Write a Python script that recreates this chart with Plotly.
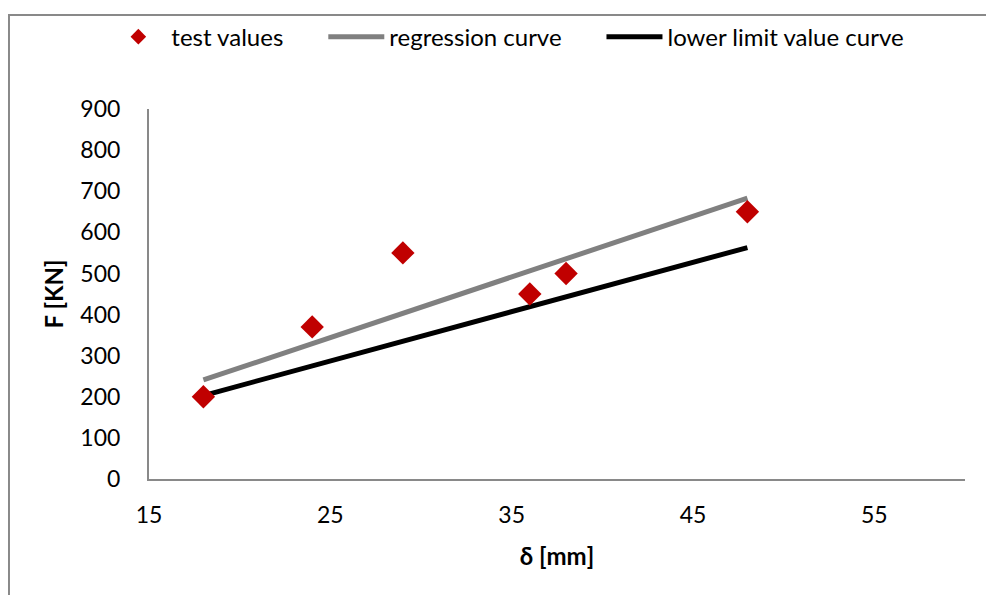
import plotly.graph_objects as go

# Data
test_x = [18, 24, 29, 36, 38, 48]
test_y = [200, 370, 550, 450, 500, 650]
reg_x = [18, 48]
reg_y = [241, 683]
low_x = [18, 48]
low_y = [203, 563]
x_ticks = [15, 25, 35, 45, 55]
y_ticks = [0, 100, 200, 300, 400, 500, 600, 700, 800, 900]

FONT = "Lato"

fig = go.Figure()
fig.add_trace(go.Scatter(x=reg_x, y=reg_y, mode="lines", name="regression curve",
                         legend="legend2",
                         line=dict(color="#808080", width=5)))
fig.add_trace(go.Scatter(x=low_x, y=low_y, mode="lines", name="lower limit value curve",
                         legend="legend3",
                         line=dict(color="#000000", width=5)))
fig.add_trace(go.Scatter(x=test_x, y=test_y, mode="markers", name="test values",
                         legend="legend",
                         marker=dict(symbol="diamond", size=18, color="#C00000")))

leg_common = dict(orientation="h", y=1.1945, yanchor="middle", xanchor="left",
                  font=dict(family=FONT, size=24, color="#000000"),
                  bgcolor="rgba(0,0,0,0)", itemwidth=56, itemsizing="constant")

fig.update_layout(
    width=994, height=595,
    margin=dict(l=141, r=37, t=101, b=124, autoexpand=False),
    paper_bgcolor="white", plot_bgcolor="white",
    showlegend=True,
    legend=dict(x=-0.0535, **leg_common),
    legend2=dict(x=0.2136, **leg_common),
    legend3=dict(x=0.5545, **leg_common),
    shapes=[dict(type="rect", xref="paper", yref="paper",
                 x0=-0.1716, x1=1.08, y0=-0.4, y1=1.254,
                 line=dict(color="#898989", width=2), layer="below")],
)

fig.update_xaxes(range=[15, 60], tickvals=x_ticks, showgrid=False, zeroline=False,
                 showline=True, linecolor="#898989", linewidth=2,
                 ticks="", ticklabelstandoff=14,
                 tickfont=dict(family=FONT, size=23, color="#000000"),
                 title=dict(text="<b>δ [mm]</b>", font=dict(family=FONT, size=24, color="#000000"),
                            standoff=22))
fig.update_yaxes(range=[0, 900], tickvals=y_ticks, showgrid=False, zeroline=False,
                 showline=True, linecolor="#898989", linewidth=2,
                 ticks="", ticklabelstandoff=22,
                 tickfont=dict(family=FONT, size=23, color="#000000"),
                 title=dict(text="<b>F [KN]</b>", font=dict(family=FONT, size=24, color="#000000"),
                            standoff=10))

fig.write_html("out.html")
